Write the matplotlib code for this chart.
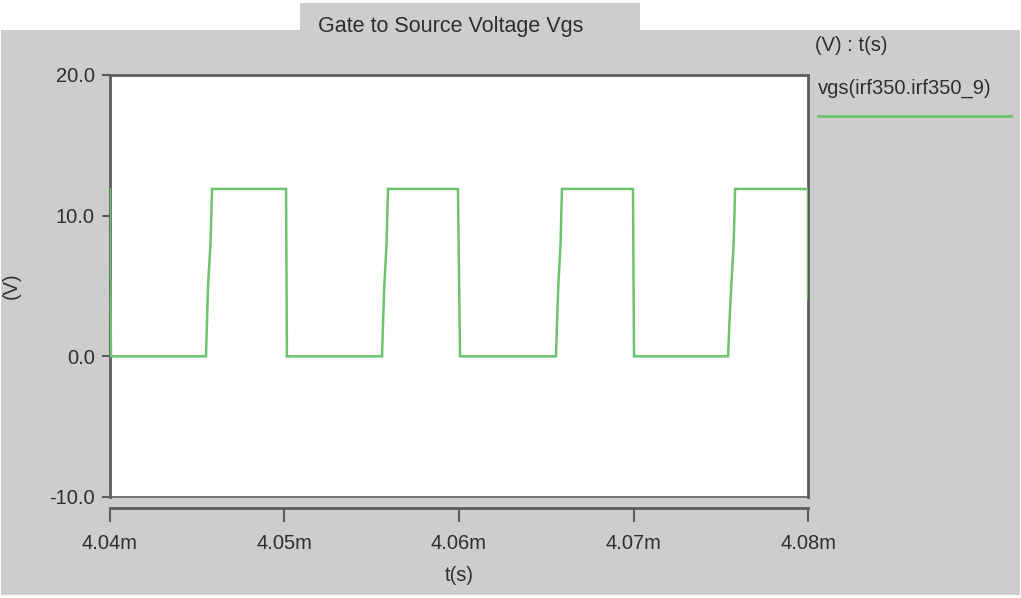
import matplotlib.pyplot as plt
from matplotlib.patches import Rectangle
from matplotlib.lines import Line2D

plt.rcParams['font.family'] = ['Liberation Sans', 'DejaVu Sans']

# time in ms, gate-source voltage in V
t_ms = [4.04000, 4.04001, 4.04006,
        4.04550, 4.04556, 4.04562, 4.04576, 4.04585,
        4.05009, 4.05014,
        4.05559, 4.05565, 4.05572, 4.05585, 4.05593,
        4.05994, 4.06006,
        4.06556, 4.06562, 4.06569, 4.06582, 4.06590,
        4.06997, 4.07003,
        4.07542, 4.07550, 4.07560, 4.07574, 4.07582,
        4.08000, 4.08000]
vgs = [11.9, 6.0, 0.0,
       0.0, 2.5, 5.0, 8.0, 11.9,
       11.9, 0.0,
       0.0, 2.5, 5.0, 8.0, 11.9,
       11.9, 0.0,
       0.0, 2.5, 5.0, 8.0, 11.9,
       11.9, 0.0,
       0.0, 2.5, 5.0, 8.0, 11.9,
       11.9, 4.1]

x_ticks = [4.04, 4.05, 4.06, 4.07, 4.08]
y_ticks = [-10, 0, 10, 20]

panel = '#cdcdcd'
frame = '#5c5c5c'
green = '#6cc46c'
txt = '#2e2e2e'
fs = 14.5

fig = plt.figure(figsize=(10.21, 5.98), dpi=100, facecolor='white')

# gray panel and title tab
fig.patches.append(Rectangle((0.001, 0.005), 0.998, 0.945, transform=fig.transFigure,
                             facecolor=panel, edgecolor='none', zorder=-10))
fig.patches.append(Rectangle((0.294, 0.945), 0.333, 0.05, transform=fig.transFigure,
                             facecolor=panel, edgecolor='none', zorder=-10))
fig.text(0.441, 0.956, 'Gate to Source Voltage Vgs', ha='center', va='center',
         fontsize=15.5, color=txt)

ax = fig.add_axes([0.1077, 0.1689, 0.6837, 0.7057])
ax.set_zorder(2)
ax.set_facecolor('white')
ax.plot(t_ms, vgs, color=green, lw=1.8, solid_joinstyle='miter', zorder=3)

ax.set_xlim(4.04, 4.08)
ax.set_ylim(-10, 20)
ax.set_xticks(x_ticks)
ax.set_xticklabels([f'{v:.2f}m' for v in x_ticks])
ax.set_yticks(y_ticks)
ax.set_yticklabels([f'{v:.1f}' for v in y_ticks])

for s in ['left', 'top', 'right']:
    ax.spines[s].set_color(frame)
    ax.spines[s].set_linewidth(2)
ax.spines['bottom'].set_position(('outward', 8))
ax.spines['bottom'].set_color(frame)
ax.spines['bottom'].set_linewidth(2)
# thin edge under the white plot area
ax.add_line(Line2D([0, 1], [0, 0], transform=ax.transAxes, color=frame, lw=1.2, clip_on=False))

ax.tick_params(axis='both', colors=frame, width=1.5, labelcolor=txt, labelsize=fs)
ax.tick_params(axis='x', length=10, pad=9)
ax.tick_params(axis='y', length=6, pad=5)

ax.set_xlabel('t(s)', fontsize=fs, color=txt, labelpad=9)
ax.set_ylabel('(V)', fontsize=fs, color=txt)
ax.yaxis.set_label_coords(-0.128, 0.5)

# legend area on the right
fig.text(0.798, 0.924, '(V) : t(s)', ha='left', va='center', fontsize=fs, color=txt)
fig.text(0.801, 0.853, 'vgs(irf350.irf350_9)', ha='left', va='center', fontsize=fs, color=txt)
fig.add_artist(Line2D([0.801, 0.990], [0.806, 0.806], transform=fig.transFigure,
                      color=green, lw=2))

plt.savefig('out.png', dpi=100, facecolor=fig.get_facecolor())
